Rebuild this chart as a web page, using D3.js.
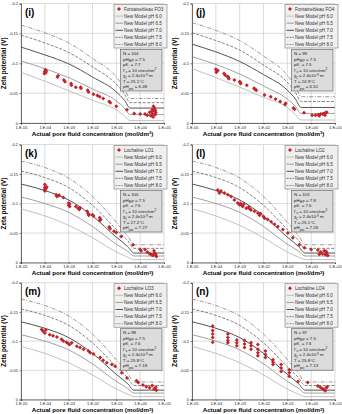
<!DOCTYPE html>
<html>
<head>
<meta charset="utf-8">
<script src="https://cdn.jsdelivr.net/npm/d3@7"></script>
<style>
body { margin: 0; background: #fff; }
text { font-family: Arial, "Liberation Sans", sans-serif; }
</style>
</head>
<body>
<div id="chart"></div>
<script>
var svgWidth = 342;
var svgHeight = 414;

// axis ticks
var xTicks = [1e-5, 1e-4, 1e-3, 1e-2, 1e-1, 1, 10];
var xTickLabels = ["1.E-05", "1.E-04", "1.E-03", "1.E-02", "1.E-01", "1.E+00", "1.E+01"];
var yTicks = [0, -0.05, -0.1, -0.15, -0.2];
var yTickLabels = ["0", "-0.05", "-0.1", "-0.15", "-0.2"];

var modelNames = ["New Model pH 6.0", "New Model pH 6.5", "New Model pH 7.0", "New Model pH 7.5", "New Model pH 8.0"];

// model curves: concentration nodes and zeta values (pH 6.0 .. 8.0)
var nodesFO = [1e-5, 1e-4, 1e-3, 1e-2, 1e-1, 0.22, 0.38, 10];
var linesFO3 = [
  [-0.085, -0.070, -0.054, -0.038, -0.022, -0.012, -0.004, -0.004],
  [-0.104, -0.091, -0.076, -0.057, -0.037, -0.025, -0.014, -0.014],
  [-0.127, -0.114, -0.099, -0.077, -0.052, -0.038, -0.025, -0.025],
  [-0.147, -0.134, -0.118, -0.094, -0.065, -0.049, -0.034, -0.034],
  [-0.164, -0.151, -0.134, -0.108, -0.077, -0.058, -0.041, -0.041]
];
var linesFO4 = [
  [-0.091, -0.076, -0.060, -0.043, -0.026, -0.014, -0.005, -0.005],
  [-0.111, -0.098, -0.082, -0.062, -0.040, -0.028, -0.016, -0.016],
  [-0.132, -0.119, -0.103, -0.081, -0.055, -0.040, -0.026, -0.026],
  [-0.151, -0.138, -0.122, -0.097, -0.068, -0.051, -0.036, -0.036],
  [-0.168, -0.155, -0.138, -0.112, -0.080, -0.061, -0.044, -0.044]
];
var nodesLO = [1e-5, 1e-4, 1e-3, 1e-2, 1e-1, 0.3, 0.55, 10];
var linesLO = [
  [-0.091, -0.079, -0.063, -0.042, -0.018, -0.009, -0.005, -0.005],
  [-0.111, -0.100, -0.085, -0.061, -0.031, -0.019, -0.011, -0.011],
  [-0.133, -0.122, -0.106, -0.079, -0.043, -0.027, -0.016, -0.016],
  [-0.155, -0.144, -0.127, -0.097, -0.056, -0.037, -0.024, -0.024],
  [-0.172, -0.161, -0.143, -0.112, -0.068, -0.045, -0.030, -0.030]
];

// measured data [concentration, zeta]
var dataFO3 = [
  [1.0e-4, -0.086], [1.05e-4, -0.089], [1.1e-4, -0.084], [1.15e-4, -0.087], [0.95e-4, -0.083],
  [3.4e-4, -0.077], [3.6e-4, -0.079], [6.3e-4, -0.072], [7.0e-4, -0.069],
  [1.26e-3, -0.066], [1.3e-3, -0.063], [2.0e-3, -0.060], [3.2e-3, -0.060], [3.3e-3, -0.058],
  [6.3e-3, -0.055], [6.8e-3, -0.052], [1.1e-2, -0.048], [1.6e-2, -0.046], [2.0e-2, -0.044],
  [2.8e-2, -0.041], [5.0e-2, -0.036], [5.6e-2, -0.034], [1.0e-1, -0.028], [2.8e-1, -0.022],
  [5.6e-1, -0.016], [1.0, -0.015], [1.6, -0.015], [2.0, -0.013], [2.5, -0.018], [2.8, -0.012],
  [3.2, -0.022], [3.3, -0.015], [3.5, -0.010], [3.8, -0.020], [4.0, -0.025], [4.2, -0.014],
  [4.5, -0.017], [3.0, -0.019], [3.6, -0.028], [4.4, -0.021]
];
var dataFO4 = [
  [1.0e-4, -0.090], [1.1e-4, -0.087], [1.05e-4, -0.085], [1.2e-4, -0.088], [2.2e-4, -0.083],
  [2.5e-4, -0.080], [3.2e-4, -0.078], [3.5e-4, -0.074], [3.3e-4, -0.076], [6.0e-4, -0.072],
  [1.0e-3, -0.069], [1.1e-3, -0.066], [1.05e-3, -0.068], [2.0e-3, -0.063], [4.0e-3, -0.058],
  [5.0e-3, -0.055], [4.5e-3, -0.056], [1.1e-2, -0.047], [2.0e-2, -0.044], [3.2e-2, -0.040],
  [5.0e-2, -0.036], [8.0e-2, -0.031], [8.5e-2, -0.033], [1.8e-1, -0.025], [2.0e-1, -0.023],
  [5.0e-1, -0.017], [1.1, -0.013], [1.5, -0.013], [2.0, -0.014], [2.5, -0.015], [3.0, -0.015],
  [3.5, -0.016], [4.0, -0.017], [4.5, -0.018], [2.2, -0.012], [3.8, -0.013]
];
var dataLO1 = [
  [1.0e-4, -0.132], [1.0e-4, -0.127], [1.0e-4, -0.124], [1.0e-4, -0.121], [1.1e-4, -0.125], [1.2e-4, -0.128],
  [3.0e-4, -0.115], [3.5e-4, -0.113], [4.0e-4, -0.114], [3.2e-4, -0.112], [6.0e-4, -0.110],
  [1.0e-3, -0.101], [1.0e-3, -0.097], [1.1e-3, -0.099], [1.1e-3, -0.095],
  [2.0e-3, -0.095], [2.5e-3, -0.092], [3.0e-3, -0.093], [2.8e-3, -0.090],
  [6.0e-3, -0.087], [6.5e-3, -0.083], [7.0e-3, -0.080], [1.0e-2, -0.081], [1.1e-2, -0.079],
  [2.0e-2, -0.076], [2.0e-2, -0.071], [2.2e-2, -0.073], [5.0e-2, -0.060], [5.5e-2, -0.057],
  [8.0e-2, -0.053], [1.0e-1, -0.051], [1.6e-1, -0.044], [5.0e-1, -0.030], [1.0, -0.022],
  [1.1, -0.020], [1.6, -0.022], [2.0, -0.018], [2.5, -0.015], [3.0, -0.013], [3.5, -0.012],
  [3.8, -0.020], [4.0, -0.016], [4.5, -0.014], [4.8, -0.010]
];
var dataLO2 = [
  [1.2e-4, -0.123], [1.4e-4, -0.118], [1.65e-4, -0.121], [2.3e-4, -0.118], [3.2e-4, -0.115],
  [4.4e-4, -0.112], [6.0e-4, -0.106], [8.3e-4, -0.101], [9.8e-4, -0.098], [1.1e-3, -0.100],
  [1.2e-3, -0.097], [1.35e-3, -0.095], [1.5e-3, -0.099], [1.9e-3, -0.092], [2.4e-3, -0.094],
  [2.6e-3, -0.091], [3.0e-3, -0.089], [4.2e-3, -0.087], [5.8e-3, -0.084], [6.8e-3, -0.080],
  [7.5e-3, -0.083], [1.0e-2, -0.078], [1.1e-2, -0.075], [1.5e-2, -0.073], [2.1e-2, -0.069],
  [2.9e-2, -0.065], [4.0e-2, -0.061], [6.5e-2, -0.056], [1.05e-1, -0.050], [1.7e-1, -0.042],
  [3.2e-1, -0.030], [5.2e-1, -0.025], [1.0, -0.022], [1.9, -0.021], [2.2, -0.014], [2.5, -0.018],
  [3.0, -0.015], [3.5, -0.020], [4.0, -0.013], [4.2, -0.019], [4.5, -0.016], [5.0, -0.012]
];
var dataLO3 = [
  [7.4e-5, -0.120], [8.5e-5, -0.117], [1.0e-4, -0.114], [1.1e-4, -0.119], [1.6e-4, -0.111],
  [2.2e-4, -0.109], [3.2e-4, -0.107], [5.0e-4, -0.103], [6.0e-4, -0.100], [8.0e-4, -0.098],
  [9.5e-4, -0.096], [1.1e-3, -0.094], [1.35e-3, -0.097], [2.2e-3, -0.091], [3.0e-3, -0.089],
  [4.2e-3, -0.086], [6.8e-3, -0.083], [8.0e-3, -0.080], [1.1e-2, -0.078], [2.1e-2, -0.072],
  [2.8e-2, -0.067], [4.0e-2, -0.063], [6.5e-2, -0.060], [8.9e-2, -0.057], [1.7e-1, -0.046],
  [2.8e-1, -0.037], [7.0e-1, -0.032], [8.3e-1, -0.029], [1.3, -0.025], [1.8, -0.022],
  [2.5, -0.020], [3.2, -0.024], [3.8, -0.018], [4.5, -0.021], [4.8, -0.016]
];
var dataLO4 = [
  [7.4e-5, -0.126], [7.4e-5, -0.118], [7.4e-5, -0.112], [7.4e-5, -0.106], [7.4e-5, -0.098],
  [3.2e-4, -0.112], [3.2e-4, -0.106], [3.2e-4, -0.101], [3.2e-4, -0.097],
  [7.6e-4, -0.102], [7.6e-4, -0.097], [7.6e-4, -0.092],
  [1.6e-3, -0.101], [1.6e-3, -0.095], [1.6e-3, -0.089],
  [3.0e-3, -0.097], [3.0e-3, -0.092], [3.0e-3, -0.086],
  [5.8e-3, -0.094], [5.8e-3, -0.086], [5.8e-3, -0.080], [5.8e-3, -0.075],
  [1.2e-2, -0.083], [1.2e-2, -0.077], [1.2e-2, -0.072],
  [2.5e-2, -0.068], [2.5e-2, -0.064], [2.5e-2, -0.060],
  [5.5e-2, -0.060], [5.5e-2, -0.054], [5.5e-2, -0.048],
  [1.2e-1, -0.051], [1.2e-1, -0.046], [1.2e-1, -0.040],
  [2.8e-1, -0.031], [7.2e-1, -0.029],
  [1.9, -0.023], [2.4, -0.021], [2.9, -0.019], [3.4, -0.017], [3.9, -0.015], [4.3, -0.020], [4.7, -0.022]
];

// annotation values: N, pH_IEP, pK, Gamma, chi, T, pH_pzc
var annoFO3 = ["104", "7.5", "7.7", "10", "2.4", "25.1", "6.48"];
var annoFO4 = ["99", "7.5", "7.5", "10", "2.4", "24.9", "6.51"];
var annoLO1 = ["100", "7.5", "7.6", "10", "2.4", "27.2", "7.27"];
var annoLO2 = ["103", "7.8", "7.6", "10", "2.4", "25.1", "7.26"];
var annoLO3 = ["98", "7.5", "7.6", "10", "2.4", "25.8", "7.18"];
var annoLO4 = ["97", "7.5", "7.6", "10", "2.4", "25.8", "7.13"];

var panels = [
  { label: "(i)", sample: "Fontainebleau FO3", data: dataFO3, nodes: nodesFO, lines: linesFO3, anno: annoFO3, col: 0, row: 0 },
  { label: "(j)", sample: "Fontainebleau FO4", data: dataFO4, nodes: nodesFO, lines: linesFO4, anno: annoFO4, col: 1, row: 0 },
  { label: "(k)", sample: "Lochaline LO1", data: dataLO1, nodes: nodesLO, lines: linesLO, anno: annoLO1, col: 0, row: 1 },
  { label: "(l)", sample: "Lochaline LO2", data: dataLO2, nodes: nodesLO, lines: linesLO, anno: annoLO2, col: 1, row: 1 },
  { label: "(m)", sample: "Lochaline LO3", data: dataLO3, nodes: nodesLO, lines: linesLO, anno: annoLO3, col: 0, row: 2 },
  { label: "(n)", sample: "Lochaline LO4", data: dataLO4, nodes: nodesLO, lines: linesLO, anno: annoLO4, col: 1, row: 2 }
];

var colLeft = [21, 192];
var rowTop = [3.5, 144.5, 282.7];
var rowHeight = [119.5, 118, 116.8];
var plotWidth = 143;

// model line styles pH 6.0 .. 8.0
var lineStyles = [
  { color: "#a8a8a8", width: 0.7, dash: null },
  { color: "#7a7a7a", width: 0.7, dash: null },
  { color: "#4a4a4a", width: 0.95, dash: null },
  { color: "#5a5a5a", width: 0.75, dash: "3,1.5" },
  { color: "#707070", width: 0.7, dash: "4,1.5,1,1.5" }
];
var dotColor = "#c0242b";

var svg = d3.select("#chart")
  .append("svg")
  .attr("width", svgWidth)
  .attr("height", svgHeight);

// text with sub/superscript pieces
function richText(t, segs, small) {
  var shift = 0;
  segs.forEach(function(s) {
    var target = s[1] === "sub" ? 1.2 : (s[1] === "sup" ? -1.6 : 0);
    var ts = t.append("tspan").text(s[0]);
    if (target !== shift) ts.attr("dy", target - shift);
    if (s[1]) ts.attr("font-size", small);
    shift = target;
  });
}

panels.forEach(function(p) {
  var height = rowHeight[p.row];
  var g = svg.append("g")
    .attr("transform", `translate(${colLeft[p.col]}, ${rowTop[p.row]})`);

  var x = d3.scaleLog().domain([1e-5, 10]).range([0, plotWidth]);
  var y = d3.scaleLinear().domain([0, -0.2]).range([height, 0]);

  // grid
  g.append("g").selectAll("line").data(xTicks).enter().append("line")
    .attr("x1", d => x(d)).attr("x2", d => x(d))
    .attr("y1", 0).attr("y2", height)
    .attr("stroke", "#c4c4c4").attr("stroke-width", 0.6);
  g.append("g").selectAll("line").data(yTicks).enter().append("line")
    .attr("x1", 0).attr("x2", plotWidth)
    .attr("y1", d => y(d)).attr("y2", d => y(d))
    .attr("stroke", "#c4c4c4").attr("stroke-width", 0.6);

  // axes
  var bottomAxis = d3.axisBottom(x).tickValues(xTicks)
    .tickFormat((d, i) => xTickLabels[i]).tickSize(1.5).tickPadding(1.2);
  var leftAxis = d3.axisLeft(y).tickValues(yTicks)
    .tickFormat((d, i) => yTickLabels[i]).tickSize(1.5).tickPadding(1.5);
  var xAxis = g.append("g").attr("transform", `translate(0, ${height})`).call(bottomAxis);
  var yAxis = g.append("g").call(leftAxis);
  [xAxis, yAxis].forEach(function(a) {
    a.select(".domain").attr("stroke", "#333").attr("stroke-width", 0.7);
    a.selectAll(".tick line").attr("stroke", "#333").attr("stroke-width", 0.6);
    a.selectAll("text").attr("font-size", 4).attr("fill", "#222")
      .style("font-family", "Arial, 'Liberation Sans', sans-serif");
  });

  // model lines
  var line = d3.line()
    .x(d => x(d[0]))
    .y(d => y(d[1]))
    .curve(d3.curveMonotoneX);
  p.lines.forEach(function(vals, i) {
    var pts = p.nodes.map((c, k) => [c, vals[k]]);
    var st = lineStyles[i];
    g.append("path")
      .attr("d", line(pts))
      .attr("fill", "none")
      .attr("stroke", st.color)
      .attr("stroke-width", st.width)
      .attr("stroke-dasharray", st.dash);
  });

  // data
  var marker = d3.symbol().type(d3.symbolSquare).size(8);
  g.append("g").selectAll("path").data(p.data).enter().append("path")
    .attr("d", marker)
    .attr("transform", d => `translate(${x(d[0])}, ${y(d[1])})rotate(45)`)
    .attr("fill", dotColor);

  // panel label
  g.append("text")
    .attr("x", 4).attr("y", 12)
    .attr("font-size", 10).attr("font-weight", "bold")
    .text(p.label);

  // legend
  var lg = g.append("g").attr("transform", "translate(93, 1)");
  lg.append("rect")
    .attr("width", 53).attr("height", 43.5)
    .attr("fill", "#efefef").attr("stroke", "#7a7a7a").attr("stroke-width", 0.6);
  var rowH = 7.1;
  lg.append("path")
    .attr("d", marker)
    .attr("transform", "translate(5, 4.5)rotate(45)")
    .attr("fill", dotColor);
  lg.append("text")
    .attr("x", 10).attr("y", 6.2)
    .attr("font-size", 4.6).attr("fill", "#333")
    .text(p.sample);
  modelNames.forEach(function(name, i) {
    var st = lineStyles[i];
    var yy = 4.5 + (i + 1) * rowH;
    lg.append("line")
      .attr("x1", 1.5).attr("x2", 9).attr("y1", yy).attr("y2", yy)
      .attr("stroke", st.color).attr("stroke-width", st.width)
      .attr("stroke-dasharray", st.dash ? "2,1" : null);
    lg.append("text")
      .attr("x", 10).attr("y", yy + 1.6)
      .attr("font-size", 4.6).attr("fill", "#333")
      .text(name);
  });

  // annotation box
  var ag = g.append("g").attr("transform", "translate(99.5, 46)");
  ag.append("rect")
    .attr("width", 41.5).attr("height", 41.5)
    .attr("fill", "#dcdcdc").attr("stroke", "#555").attr("stroke-width", 0.6);
  var a = p.anno;
  var annoLines = [
    [["N = " + a[0], ""]],
    [["pH", ""], ["IEP", "sub"], [" = " + a[1], ""]],
    [["pK", ""], ["-", "sub"], [" = " + a[2], ""]],
    [["\u0393", ""], ["s", "sub"], [" = " + a[3] + " sites/nm", ""], ["2", "sup"]],
    [["\u03c7", ""], ["\u03b6", "sub"], [" = " + a[4] + "x10", ""], ["-9", "sup"], [" m", ""]],
    [["T = " + a[5] + "\u00b0C", ""]],
    [["pH", ""], ["pzc", "sub"], [" = " + a[6], ""]]
  ];
  annoLines.forEach(function(segs, i) {
    var t = ag.append("text")
      .attr("x", 2.5).attr("y", 5.8 + i * 5.5)
      .attr("font-size", 4.4).attr("fill", "#222");
    richText(t, segs, 3.2);
  });

  // axis titles
  var xt = g.append("text")
    .attr("x", plotWidth / 2).attr("y", height + 12.8)
    .attr("text-anchor", "middle")
    .attr("font-size", 6.2).attr("font-weight", "bold");
  richText(xt, [["Actual pore fluid concentration (mol/dm", ""], ["3", "sup"], [")", ""]], 4.2);

  g.append("text")
    .attr("transform", `translate(-15.5, ${height / 2})rotate(-90)`)
    .attr("text-anchor", "middle")
    .attr("font-size", 6.4).attr("font-weight", "bold")
    .text("Zeta potential (V)");
});
</script>
</body>
</html>
